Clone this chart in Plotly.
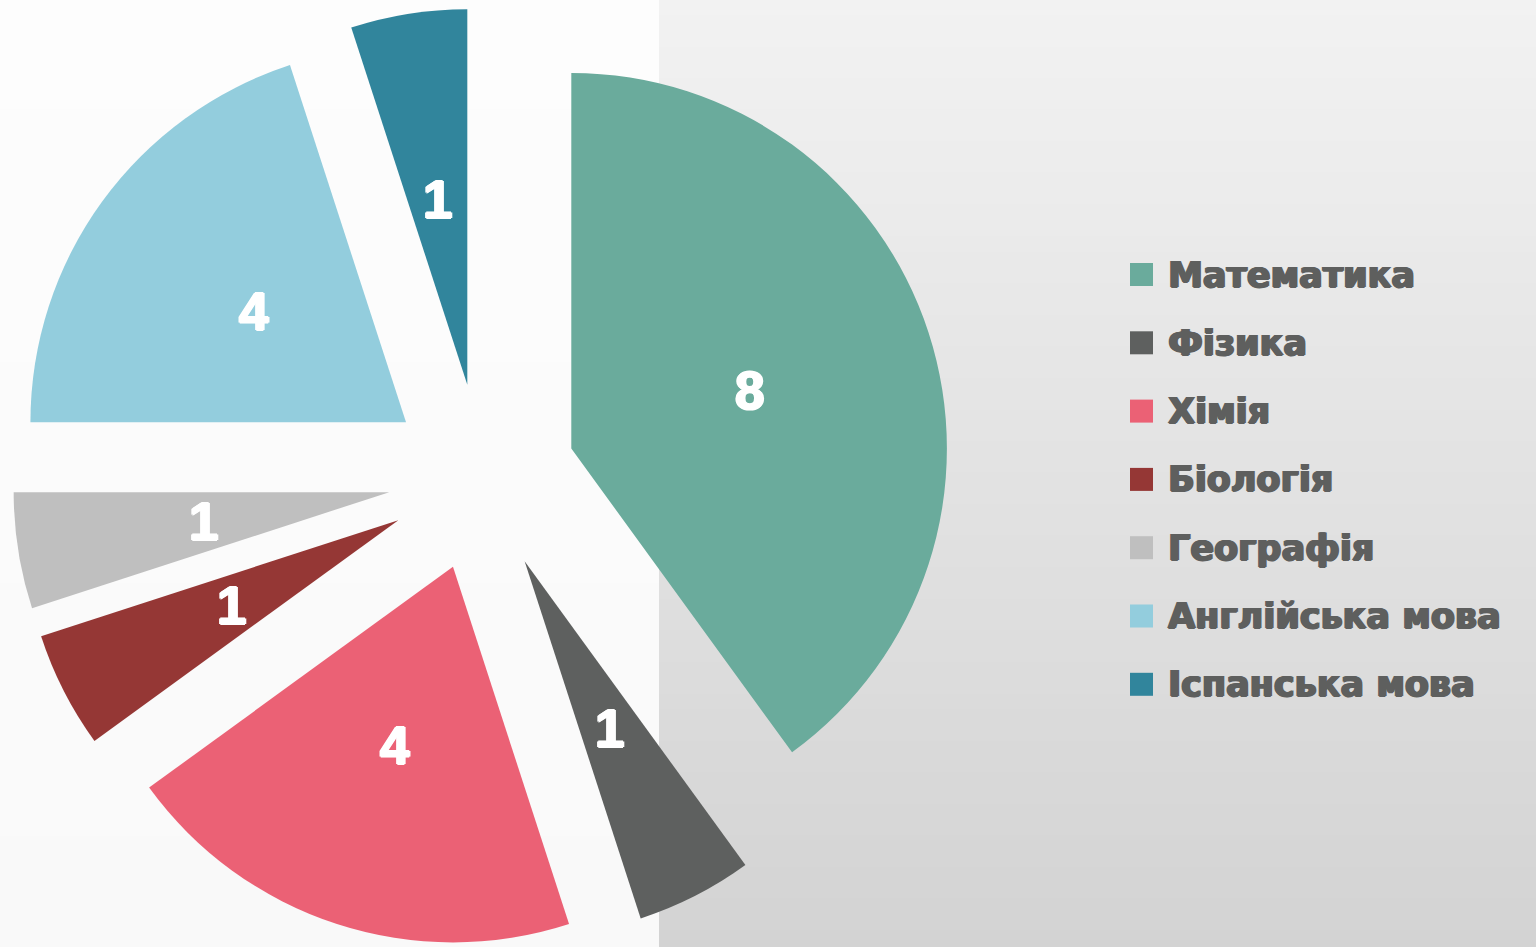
import math
import plotly.graph_objects as go

# ---- data ----
labels = ["Математика", "Фізика", "Хімія", "Біологія", "Географія",
          "Англійська мова", "Іспанська мова"]
values = [8, 1, 4, 1, 1, 4, 1]
colors = ["#6aab9c", "#5e605f", "#eb6175", "#953735", "#bfbfbf",
          "#93cddd", "#31859c"]

# ---- layout geometry ----
W, H = 1536, 947
T = 8
PULL = 0.25
DX1 = 0.6276
gs_w, gs_h = W, H - T
cx = gs_w * DX1 / 2
cy = T + gs_h / 2
R = min(gs_w * DX1, gs_h) / (2 + 2 * PULL)

fig = go.Figure(go.Pie(
    labels=labels, values=values,
    marker=dict(colors=colors, line=dict(width=0)),
    pull=[PULL] * len(values), sort=False, direction="clockwise", rotation=0,
    textinfo="none", hoverinfo="label+value",
    domain=dict(x=[0, DX1], y=[0, 1]), showlegend=False,
))


def px_to_paper(px, py):
    return px / gs_w, (H - py) / gs_h


shapes = []
# background gradient (right, full) and light left panel
N = 60
top_rgb, bot_rgb = (242, 242, 242), (211, 211, 211)
ltop, lbot = (253, 253, 253), (249, 249, 249)
right_bands, left_bands = [], []
for i in range(N):
    f = (i + 0.5) / N
    c = tuple(round(a + (b - a) * f) for a, b in zip(top_rgb, bot_rgb))
    lc = tuple(round(a + (b - a) * f) for a, b in zip(ltop, lbot))
    y_top = H * i / N - 1
    y_bot = H * (i + 1) / N + 2
    _, p1 = px_to_paper(0, y_top)
    _, p0 = px_to_paper(0, y_bot)
    right_bands.append(dict(type="rect", xref="paper", yref="paper", x0=-0.01, x1=1.01,
                            y0=p0, y1=p1, line=dict(width=0), layer="below",
                            fillcolor="rgb(%d,%d,%d)" % c))
    left_bands.append(dict(type="rect", xref="paper", yref="paper", x0=-0.01, x1=659 / W,
                           y0=p0, y1=p1, line=dict(width=0), layer="below",
                           fillcolor="rgb(%d,%d,%d)" % lc))
shapes += right_bands + left_bands

annotations = []
# slice value labels at half radius from each pulled slice's tip
total = sum(values)
cum = 0
for v in values:
    mid = 2 * math.pi * (cum + v / 2) / total
    cum += v
    d = (PULL + 0.5) * R
    x, y = px_to_paper(cx + d * math.sin(mid), cy - d * math.cos(mid))
    annotations.append(dict(
        x=x, y=y, xref="paper", yref="paper", text=str(v), showarrow=False,
        xanchor="center", yanchor="middle",
        font=dict(family="Liberation Sans", size=53, color="white", weight="bold",
                  shadow="1.2px 0 0 #ffffff, -1.2px 0 0 #ffffff, 0 1px 0 #ffffff, 0 -1px 0 #ffffff"),
    ))

# legend
LEG_X, LEG_Y0, LEG_DY, SQ = 1130, 274.5, 68.3, 23
for i, (lab, col) in enumerate(zip(labels, colors)):
    yc = LEG_Y0 + i * LEG_DY
    x0, y0 = px_to_paper(LEG_X, yc + SQ / 2)
    x1, y1 = px_to_paper(LEG_X + SQ, yc - SQ / 2)
    shapes.append(dict(type="rect", xref="paper", yref="paper", x0=x0, x1=x1,
                       y0=y0, y1=y1, line=dict(width=0), fillcolor=col, layer="above"))
    tx, ty = px_to_paper(LEG_X + 36, yc)
    annotations.append(dict(
        x=tx, y=ty, xref="paper", yref="paper", text=lab, showarrow=False,
        xanchor="left", yanchor="middle",
        font=dict(family="DejaVu Sans", size=35, color="#5e5f5e", weight="bold",
                  shadow="1.2px 0 0 #5e5f5e, -1px 0 0 #5e5f5e, 0 0.6px 0 #5e5f5e, 0 -0.4px 0 #5e5f5e"),
    ))

fig.update_layout(
    width=W, height=H,
    margin=dict(l=0, r=0, t=T, b=0, pad=0),
    paper_bgcolor="#fbfbfb", plot_bgcolor="rgba(0,0,0,0)",
    shapes=shapes, annotations=annotations, showlegend=False,
)
fig.write_html(
    "out.html",
    config={"displayModeBar": False},
    post_script="document.body.style.margin='0';document.body.style.overflow='hidden';",
)
